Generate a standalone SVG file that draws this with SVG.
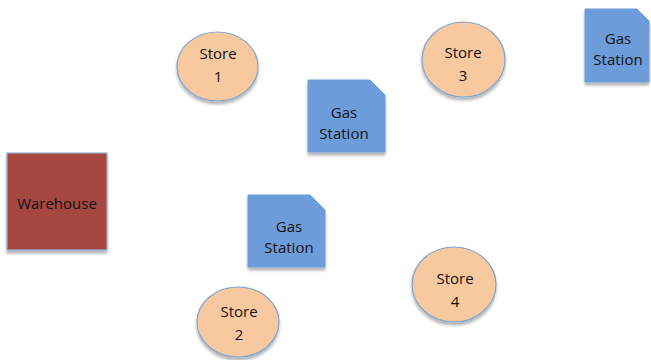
<svg xmlns="http://www.w3.org/2000/svg" width="651" height="360" viewBox="0 0 651 360">
<style>
.store{fill:#F8C99F;stroke:#7EA3D2;stroke-width:1.2}
.gas{fill:#6C9DDA;stroke:#6C9DDA;stroke-width:1}
.wh{fill:#A6463F;stroke:#8DAFD9;stroke-width:1.2}
text{font-family:"Open Sans","Liberation Sans",sans-serif;font-size:15px;fill:#111;text-anchor:middle}
</style>
<defs>
<filter id="sh" x="-20%" y="-20%" width="140%" height="150%">
<feGaussianBlur in="SourceAlpha" stdDeviation="1.5"/>
<feOffset dx="0" dy="2.5" result="b"/>
<feComponentTransfer><feFuncA type="linear" slope="0.3"/></feComponentTransfer>
<feMerge><feMergeNode/><feMergeNode in="SourceGraphic"/></feMerge>
</filter>
</defs>
<g id="connectors"></g>
<g id="warehouse">
<rect class="wh" x="7" y="153" width="100" height="97" filter="url(#sh)"/>
<text x="57" y="209">Warehouse</text>
</g>
<g id="store1">
<ellipse class="store" cx="217.5" cy="66.5" rx="40.5" ry="34.5" filter="url(#sh)"/>
<text x="218" y="59">Store</text>
<text x="218" y="82">1</text>
</g>
<g id="store2">
<ellipse class="store" cx="238" cy="322" rx="41" ry="35" filter="url(#sh)"/>
<text x="239" y="317">Store</text>
<text x="239" y="340">2</text>
</g>
<g id="store3">
<ellipse class="store" cx="463.5" cy="59.5" rx="41.5" ry="37.5" filter="url(#sh)"/>
<text x="463" y="58">Store</text>
<text x="463" y="81">3</text>
</g>
<g id="store4">
<ellipse class="store" cx="454" cy="284.5" rx="42" ry="37.5" filter="url(#sh)"/>
<text x="455" y="284">Store</text>
<text x="455" y="307">4</text>
</g>
<g id="gas1">
<polygon class="gas" points="308,80 370,80 385,95 385,152 308,152" filter="url(#sh)"/>
<text x="344" y="118">Gas</text>
<text x="344" y="139">Station</text>
</g>
<g id="gas2">
<polygon class="gas" points="248,195 310,195 325,210 325,267 248,267" filter="url(#sh)"/>
<text x="289" y="232">Gas</text>
<text x="289" y="253">Station</text>
</g>
<g id="gas3">
<polygon class="gas" points="585,9 637,9 649,21 649,82 585,82" filter="url(#sh)"/>
<text x="618" y="44">Gas</text>
<text x="618" y="65">Station</text>
</g>
</svg>
